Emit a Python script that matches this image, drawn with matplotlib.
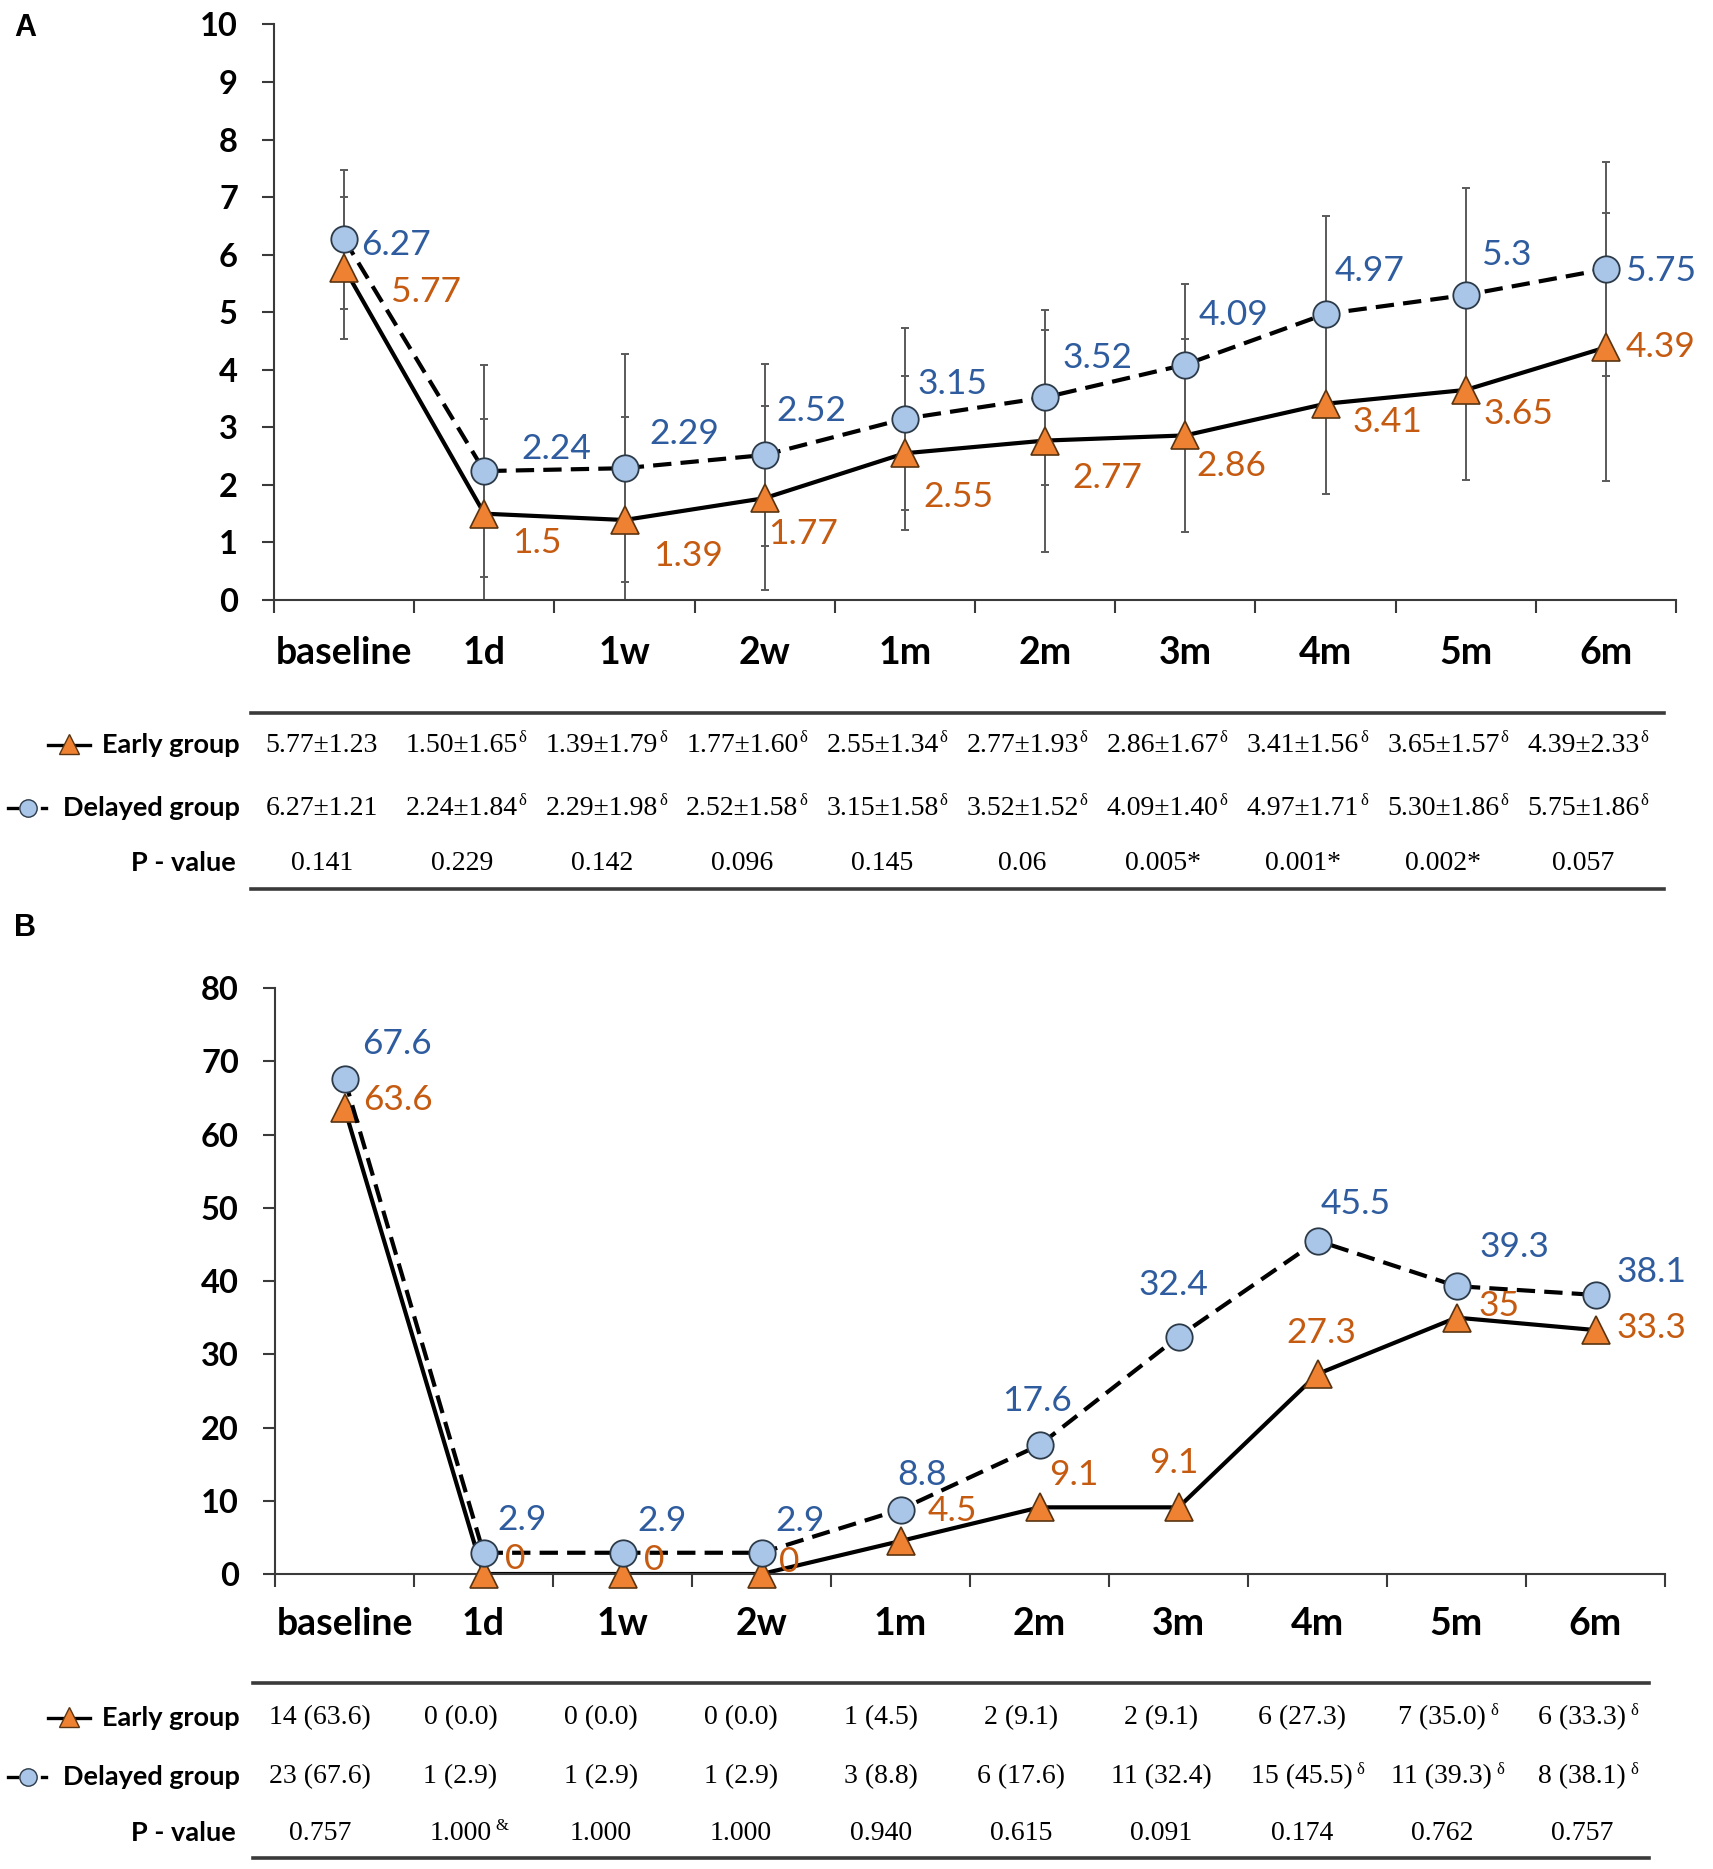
import matplotlib.pyplot as plt
from matplotlib.transforms import blended_transform_factory
import numpy as np

# --- Data ---
categories = ['baseline', '1d', '1w', '2w', '1m', '2m', '3m', '4m', '5m', '6m']

# Panel A: mean +/- SD
a_early = [5.77, 1.50, 1.39, 1.77, 2.55, 2.77, 2.86, 3.41, 3.65, 4.39]
a_early_sd = [1.23, 1.65, 1.79, 1.60, 1.34, 1.93, 1.67, 1.56, 1.57, 2.33]
a_delayed = [6.27, 2.24, 2.29, 2.52, 3.15, 3.52, 4.09, 4.97, 5.30, 5.75]
a_delayed_sd = [1.21, 1.84, 1.98, 1.58, 1.58, 1.52, 1.40, 1.71, 1.86, 1.86]
a_pvalues = ['0.141', '0.229', '0.142', '0.096', '0.145', '0.06', '0.005*', '0.001*', '0.002*', '0.057']
a_early_sup = ['', 'δ', 'δ', 'δ', 'δ', 'δ', 'δ', 'δ', 'δ', 'δ']
a_delayed_sup = ['', 'δ', 'δ', 'δ', 'δ', 'δ', 'δ', 'δ', 'δ', 'δ']
a_p_sup = [''] * 10

# Panel B: n (%)
b_early_n = [14, 0, 0, 0, 1, 2, 2, 6, 7, 6]
b_early_pct = [63.6, 0.0, 0.0, 0.0, 4.5, 9.1, 9.1, 27.3, 35.0, 33.3]
b_delayed_n = [23, 1, 1, 1, 3, 6, 11, 15, 11, 8]
b_delayed_pct = [67.6, 2.9, 2.9, 2.9, 8.8, 17.6, 32.4, 45.5, 39.3, 38.1]
b_pvalues = ['0.757', '1.000', '1.000', '1.000', '0.940', '0.615', '0.091', '0.174', '0.762', '0.757']
b_early_sup = ['', '', '', '', '', '', '', '', 'δ', 'δ']
b_delayed_sup = ['', '', '', '', '', '', '', 'δ', 'δ', 'δ']
b_p_sup = ['', '&', '', '', '', '', '', '', '', '']

# --- Style ---
W, H = 1713, 1869
c_tri = '#EE8232'
c_tri_edge = '#5A3410'
c_circ = '#A9C5E8'
c_circ_edge = '#2C3A48'
c_blue = '#2E5C9E'
c_orange = '#C55A11'
c_err = '#5A5A5A'
c_axis = '#3A3A3A'

# label offsets (pixels, right / down) relative to each marker
a_delayed_off = [(52, 6), (72, -22), (60, -34), (47, -44), (48, -35), (52, -39), (48, -50), (44, -43), (41, -40), (55, 2)]
a_early_off = [(82, 24), (53, 29), (64, 36), (38, 36), (54, 44), (62, 37), (46, 31), (62, 18), (53, 24), (55, 0)]
b_delayed_off = [(52, -35), (39, -33), (40, -32), (39, -32), (22, -35), (-2, -44), (-5, -52), (38, -37), (58, -39), (56, -23)]
b_early_off = [(53, -8), (32, -15), (32, -14), (28, -12), (52, -30), (34, -32), (-5, -44), (4, -41), (43, -12), (56, -2)]

fig = plt.figure(figsize=(W / 100, H / 100), dpi=100)

# overlay in image pixel coordinates for panel letters and tables
ov = fig.add_axes([0, 0, 1, 1])
ov.set_xlim(0, W)
ov.set_ylim(H, 0)
ov.axis('off')


def px_axes(l, t, r, b):
    return fig.add_axes([l / W, 1 - b / H, (r - l) / W, (b - t) / H])


def draw_panel(ax, early, delayed, ymax, ystep, early_sd=None, delayed_sd=None,
               early_off=None, delayed_off=None, cat_offset=64):
    x = np.arange(len(categories))
    if early_sd is not None:
        ax.errorbar(x, early, yerr=early_sd, fmt='none', ecolor=c_err, elinewidth=1.4,
                    capsize=3, capthick=1.4, zorder=1)
        ax.errorbar(x, delayed, yerr=delayed_sd, fmt='none', ecolor=c_err, elinewidth=1.4,
                    capsize=3, capthick=1.4, zorder=1)
    ax.plot(x, early, color='black', lw=3.0, zorder=2)
    ax.plot(x, early, ls='none', marker='^', ms=20.5, mfc=c_tri, mec=c_tri_edge, mew=1.2,
            zorder=3, clip_on=False)
    ax.plot(x, delayed, color='black', lw=3.0, ls=(0, (4.4, 2.2)), zorder=4)
    ax.plot(x, delayed, ls='none', marker='o', ms=19, mfc=c_circ, mec=c_circ_edge, mew=1.3,
            zorder=5, clip_on=False)

    for i, v in enumerate(delayed):
        dx, dy = delayed_off[i]
        ax.annotate(f'{v:g}', (i, v), xytext=(dx, -dy), textcoords='offset pixels',
                    ha='center', va='center', fontsize=25.5, family='Lato', color=c_blue,
                    zorder=6, annotation_clip=False)
    for i, v in enumerate(early):
        dx, dy = early_off[i]
        ax.annotate(f'{v:g}', (i, v), xytext=(dx, -dy), textcoords='offset pixels',
                    ha='center', va='center', fontsize=25.5, family='Lato', color=c_orange,
                    zorder=6, annotation_clip=False)

    ax.set_xlim(-0.5, len(categories) - 0.5)
    ax.set_ylim(0, ymax)
    ax.set_xticks(np.arange(-0.5, len(categories), 1.0))
    ax.set_xticklabels([])
    ax.set_yticks(np.arange(0, ymax + 1, ystep))
    ax.tick_params(axis='x', direction='out', length=9, width=1.5, color=c_axis)
    ax.tick_params(axis='y', direction='out', length=9, width=1.5, color=c_axis, pad=17,
                   labelsize=23.5)
    for lab in ax.get_yticklabels():
        lab.set_family('Lato')
        lab.set_fontweight('bold')
    for s in ['top', 'right']:
        ax.spines[s].set_visible(False)
    for s in ['left', 'bottom']:
        ax.spines[s].set_color(c_axis)
        ax.spines[s].set_linewidth(1.5)
    ax.patch.set_alpha(0)

    for i, c in enumerate(categories):
        ax.annotate(c, (i, 0), xycoords=('data', 'axes fraction'), xytext=(0, -cat_offset),
                    textcoords='offset pixels', ha='center', va='baseline', fontsize=27,
                    family='Lato', fontweight='bold', annotation_clip=False)


def draw_table(col_ax, rows, sups, row_y, top_y, bot_y, x0, x1, shift, fs, sup_gap):
    ov.plot([x0, x1], [top_y, top_y], color=c_axis, lw=2.6)
    ov.plot([x0, x1], [bot_y, bot_y], color=c_axis, lw=2.6)
    tr = blended_transform_factory(col_ax.transData, ov.transData)
    for texts, marks, y in zip(rows, sups, row_y):
        for i, (s, m) in enumerate(zip(texts, marks)):
            t = ov.text(i + shift, y, s, transform=tr, ha='center', va='center',
                        family='Liberation Serif', fontsize=fs)
            if m:
                ov.annotate(m, xy=(1, 0.45), xycoords=t, xytext=(sup_gap, 0),
                            textcoords='offset points', ha='left', va='bottom',
                            family='Liberation Serif', fontsize=12)
    # row labels with legend glyphs
    ye, yd, yp = row_y
    lab_kw = dict(ha='right', va='center', family='Lato', fontweight='bold', fontsize=19.5)
    ov.text(240, ye, 'Early group', **lab_kw)
    ov.text(240, yd, 'Delayed group', **lab_kw)
    ov.text(236, yp, 'P - value', **lab_kw)
    ov.plot([48, 90], [ye, ye], color='black', lw=2.4)
    ov.plot([69], [ye - 1], marker='^', ms=14, mfc=c_tri, mec=c_tri_edge, mew=1)
    ov.plot([8, 17], [yd, yd], color='black', lw=2.4)
    ov.plot([42, 46], [yd, yd], color='black', lw=2.4)
    ov.plot([28], [yd], marker='o', ms=12.5, mfc=c_circ, mec=c_circ_edge, mew=1)


# --- Panel A ---
axA = px_axes(274, 24.5, 1676, 600)
draw_panel(axA, a_early, a_delayed, 10, 1, a_early_sd, a_delayed_sd,
           a_early_off, a_delayed_off, cat_offset=64)
a_rows = [[f'{m:.2f}±{s:.2f}' for m, s in zip(a_early, a_early_sd)],
          [f'{m:.2f}±{s:.2f}' for m, s in zip(a_delayed, a_delayed_sd)],
          a_pvalues]
draw_table(axA, a_rows, [a_early_sup, a_delayed_sup, a_p_sup], [745, 808, 863],
           713, 889, 251, 1664, -0.16, 20, 0.5)

# --- Panel B ---
axB = px_axes(275, 988, 1665, 1574)
draw_panel(axB, b_early_pct, b_delayed_pct, 80, 10, early_off=b_early_off,
           delayed_off=b_delayed_off, cat_offset=61)
b_rows = [[f'{n} ({p:.1f})' for n, p in zip(b_early_n, b_early_pct)],
          [f'{n} ({p:.1f})' for n, p in zip(b_delayed_n, b_delayed_pct)],
          b_pvalues]
# table B columns follow the same grid as table A
draw_table(axA, b_rows, [b_early_sup, b_delayed_sup, b_p_sup], [1718, 1777, 1833],
           1683, 1858, 253, 1649, -0.17, 20, 3)

# panel letters
ov.text(25, 28, 'A', ha='center', va='center', family='Liberation Sans',
        fontweight='bold', fontsize=22)
ov.text(25, 928, 'B', ha='center', va='center', family='Liberation Sans',
        fontweight='bold', fontsize=22)

fig.savefig('out.png', dpi=100)
